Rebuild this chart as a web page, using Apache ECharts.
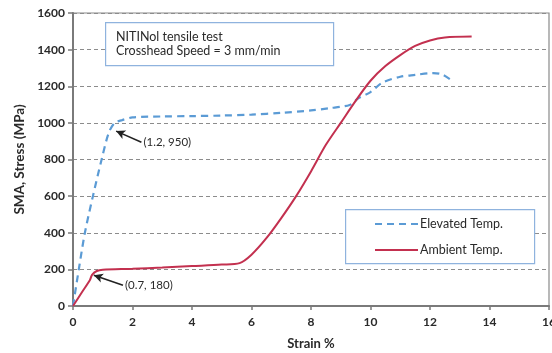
<!DOCTYPE html>
<html>
<head>
<meta charset="utf-8">
<script src="https://cdn.jsdelivr.net/npm/echarts@6/dist/echarts.min.js"></script>
<style>
html,body{margin:0;padding:0;background:#fff;}
#c{width:552px;height:353px;}
</style>
</head>
<body>
<div id="c"></div>
<script>
// ---- data ----
const elevatedStrain = [0, 0.2, 0.4, 0.67, 0.97, 1.2, 1.4, 1.65, 2.0, 3, 4, 5, 6, 7, 8, 8.6, 9.3, 9.6, 10.0, 10.4, 11.0, 11.5, 12.1, 12.4, 12.7];
const elevatedStress = [0, 205, 400, 600, 805, 945, 1000, 1015, 1030, 1035, 1037, 1040, 1045, 1055, 1068, 1080, 1098, 1135, 1168, 1220, 1252, 1262, 1272, 1265, 1235];
const ambientStrain = [0, 0.3, 0.57, 0.64, 0.8, 1.0, 2, 3, 4, 5, 5.6, 6.0, 6.5, 7.0, 7.5, 8.0, 8.5, 9.0, 9.5, 10.0, 10.5, 11.0, 11.5, 12.0, 12.5, 13.4];
const ambientStress = [0, 75, 142, 170, 191, 198, 203, 210, 218, 226, 234, 280, 370, 480, 600, 735, 880, 1000, 1120, 1230, 1310, 1370, 1420, 1450, 1466, 1471];
const seriesNames = ['Elevated Temp.', 'Ambient Temp.'];
const annot1 = {label: '(1.2, 950)', tail: [2.3, 894], head: [1.45, 955]};
const annot2 = {label: '(0.7, 180)', tail: [1.68, 113], head: [0.7, 168]};
const boxLines = ['NITINol tensile test', 'Crosshead Speed = 3 mm/min'];

const zip = (a, b) => a.map((v, i) => [v, b[i]]);
const FONT = 'Lato, "Open Sans", sans-serif';
const BLUE = '#5b9bd5', RED = '#c3304f', BOXC = '#8fb3de', TXT = '#2a2a2a';

const chart = echarts.init(document.getElementById('c'), null, {renderer: 'canvas'});

function arrowLine(a) {
  return {
    silent: true,
    symbol: ['none', 'arrow'],
    symbolSize: [7, 9],
    lineStyle: {color: '#222', width: 1.6, type: 'solid'},
    label: {show: false},
    emphasis: {disabled: true},
    data: [[{coord: a.tail}, {coord: a.head}]],
    animation: false
  };
}
function labelPoint(a) {
  return {
    silent: true,
    symbol: 'circle',
    symbolSize: 0,
    label: {show: true, position: 'right', distance: 2, formatter: a.label,
      color: TXT, fontSize: 11.5, fontFamily: FONT},
    data: [{coord: a.tail}],
    animation: false
  };
}

chart.setOption({
  backgroundColor: '#fff',
  animation: false,
  grid: {left: 73, right: 3, top: 13, bottom: 47, containLabel: false, outerBoundsMode: 'none',
    show: true, borderColor: '#8a8a8a', borderWidth: 1.2},
  xAxis: {
    type: 'value', min: 0, max: 16, interval: 2,
    name: 'Strain %', nameLocation: 'middle', nameGap: 31,
    nameTextStyle: {fontWeight: 700, fontSize: 13, color: TXT, fontFamily: FONT},
    axisLine: {show: true, onZero: false, lineStyle: {color: '#7a7a7a', width: 2}},
    axisTick: {show: true, inside: false, length: 4, lineStyle: {color: '#7a7a7a', width: 1.5}},
    axisLabel: {fontWeight: 700, fontSize: 12, color: TXT, margin: 10, fontFamily: FONT,
      showMaxLabel: true, formatter: v => String(v)},
    splitLine: {show: false}
  },
  yAxis: {
    type: 'value', min: 0, max: 1600, interval: 200,
    name: 'SMA, Stress (MPa)', nameLocation: 'middle', nameGap: 46, nameRotate: 90,
    nameTextStyle: {fontWeight: 700, fontSize: 13.5, color: TXT, fontFamily: FONT},
    axisLine: {show: true, onZero: false, lineStyle: {color: '#7a7a7a', width: 2}},
    axisTick: {show: true, inside: false, length: 5, lineStyle: {color: '#7a7a7a', width: 1.5}},
    axisLabel: {fontWeight: 700, fontSize: 12, color: TXT, margin: 8, fontFamily: FONT,
      formatter: v => String(v)},
    splitLine: {show: true, lineStyle: {color: '#8c8c8c', type: [4, 3], width: 1}}
  },
  graphic: [
    {type: 'rect', left: 105, top: 22, shape: {width: 228, height: 43},
     style: {fill: '#fff', stroke: BOXC, lineWidth: 1.2}, z: 10},
    {type: 'text', left: 116, top: 30, z: 11,
     style: {text: boxLines.join('\n'), fill: TXT, font: '12.5px ' + FONT, lineHeight: 14}},
    // legend box
    {type: 'rect', left: 345, top: 209, shape: {width: 189, height: 54},
     style: {fill: '#fff', stroke: BOXC, lineWidth: 1.2}, z: 10},
    {type: 'line', shape: {x1: 375, y1: 224, x2: 418, y2: 224}, z: 11,
     style: {stroke: BLUE, lineWidth: 2.2, lineDash: [7, 5]}},
    {type: 'text', x: 420, y: 224, z: 11,
     style: {text: seriesNames[0], fill: TXT, font: '12.5px ' + FONT, verticalAlign: 'middle'}},
    {type: 'line', shape: {x1: 375, y1: 250, x2: 418, y2: 250}, z: 11,
     style: {stroke: RED, lineWidth: 2}},
    {type: 'text', x: 420, y: 250, z: 11,
     style: {text: seriesNames[1], fill: TXT, font: '12.5px ' + FONT, verticalAlign: 'middle'}}
  ],
  series: [
    {
      name: seriesNames[0], type: 'line', showSymbol: false, smooth: 0.3,
      data: zip(elevatedStrain, elevatedStress),
      lineStyle: {color: BLUE, width: 2.2, type: [7, 5]},
      itemStyle: {color: BLUE},
      markLine: arrowLine(annot1),
      markPoint: labelPoint(annot1)
    },
    {
      name: seriesNames[1], type: 'line', showSymbol: false, smooth: 0.3,
      data: zip(ambientStrain, ambientStress),
      lineStyle: {color: RED, width: 2},
      itemStyle: {color: RED},
      markLine: arrowLine(annot2),
      markPoint: labelPoint(annot2)
    }
  ]
});
</script>
</body>
</html>
